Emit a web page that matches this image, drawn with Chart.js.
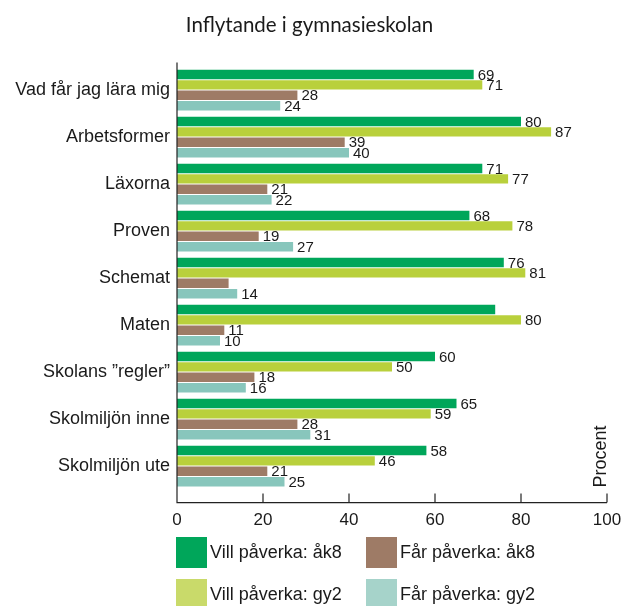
<!DOCTYPE html>
<html>
<head>
<meta charset="utf-8">
<script src="https://cdn.jsdelivr.net/npm/chart.js@4/dist/chart.umd.min.js"></script>
<style>
  body { margin: 0; background: #fff; }
  #wrap { position: relative; width: 625px; height: 606px; overflow: hidden; }
  #legend {
    position: absolute; left: 176px; top: 537px;
    display: grid; grid-template-columns: 190px 190px; grid-template-rows: 42px 42px;
    grid-auto-flow: column;
    font: 18px 'Liberation Sans', Arial, sans-serif; color: #1a1a1a;
  }
  .item { display: flex; align-items: center; height: 31px; }
  .box { width: 31px; height: 31px; margin-right: 3px; flex: none; }
</style>
</head>
<body>
<div id="wrap">
  <canvas id="myChart" width="625" height="606"></canvas>
  <div id="legend"></div>
</div>
<script>
const categories = ['Vad får jag lära mig', 'Arbetsformer', 'Läxorna', 'Proven', 'Schemat',
  'Maten', 'Skolans ”regler”', 'Skolmiljön inne', 'Skolmiljön ute'];
const seriesNames = ['Vill påverka: åk8', 'Vill påverka: gy2', 'Får påverka: åk8', 'Får påverka: gy2'];
const villAk8 = [69, 80, 71, 68, 76, 74, 60, 65, 58];
const villGy2 = [71, 87, 77, 78, 81, 80, 50, 59, 46];
const farAk8 = [28, 39, 21, 19, 12, 11, 18, 28, 21];
const farGy2 = [24, 40, 22, 27, 14, 10, 16, 31, 25];
const xTicks = [0, 20, 40, 60, 80, 100];
// bars without a printed value: [category, series]
const unlabeled = [[4, 2], [5, 0]];

const barColors = ['#00a65a', '#b9d03c', '#9e7b66', '#88c6bc'];
const legendColors = ['#00a65a', '#c9da6a', '#9e7b66', '#a6d3ca'];
const font = "'Liberation Sans', Arial, sans-serif";

// value labels at the bar ends
const valueLabels = {
  id: 'valueLabels',
  afterDatasetsDraw(chart) {
    const ctx = chart.ctx;
    ctx.save();
    ctx.font = '15px ' + font;
    ctx.fillStyle = '#1a1a1a';
    ctx.textBaseline = 'middle';
    chart.data.datasets.forEach((ds, si) => {
      chart.getDatasetMeta(si).data.forEach((bar, ci) => {
        if (unlabeled.some(p => p[0] === ci && p[1] === si)) return;
        ctx.fillText(ds.data[ci], bar.x + 4, bar.y + 1);
      });
    });
    ctx.restore();
  }
};

// axis lines with inward ticks, and the "Procent" note
const axes = {
  id: 'axes',
  afterDraw(chart) {
    const { ctx, chartArea, scales: { x } } = chart;
    const x0 = x.getPixelForValue(0), x1 = x.getPixelForValue(100);
    const ay = chartArea.bottom + 13;
    ctx.save();
    ctx.strokeStyle = '#222';
    ctx.lineWidth = 1.2;
    ctx.beginPath();
    ctx.moveTo(x0, chartArea.top - 4);
    ctx.lineTo(x0, ay);
    ctx.lineTo(x1, ay);
    xTicks.forEach(v => {
      const px = x.getPixelForValue(v);
      ctx.moveTo(px, ay);
      ctx.lineTo(px, ay - 9);
    });
    ctx.stroke();
    ctx.translate(x1, ay - 15);
    ctx.rotate(-Math.PI / 2);
    ctx.font = '18px ' + font;
    ctx.fillStyle = '#1a1a1a';
    ctx.textAlign = 'left';
    ctx.textBaseline = 'alphabetic';
    ctx.fillText('Procent', 0, -1);
    ctx.restore();
  }
};

const chart = new Chart(document.getElementById('myChart').getContext('2d'), {
  type: 'bar',
  data: {
    labels: categories,
    datasets: [villAk8, villGy2, farAk8, farGy2].map((d, i) => ({
      label: seriesNames[i],
      data: d,
      backgroundColor: barColors[i],
      categoryPercentage: 0.888,
      barPercentage: 0.9
    }))
  },
  options: {
    indexAxis: 'y',
    responsive: false,
    animation: false,
    layout: { padding: { left: 12, right: 18, bottom: 54, top: 0 } },
    plugins: {
      legend: { display: false },
      tooltip: { enabled: false },
      title: {
        display: true,
        text: 'Inflytande i gymnasieskolan',
        color: '#1a1a1a',
        font: { family: 'Lato', size: 20.5, weight: 'normal', lineHeight: 1.2 },
        padding: { top: 13, bottom: 29 }
      }
    },
    scales: {
      x: {
        min: 0, max: 100,
        afterBuildTicks: s => { s.ticks = xTicks.map(v => ({ value: v })); },
        afterFit: s => { s.paddingLeft = 0; s.paddingRight = 0; },
        grid: { display: false, drawTicks: false },
        border: { display: false },
        ticks: { color: '#1a1a1a', padding: 21, maxRotation: 0, font: { family: font, size: 17 } }
      },
      y: {
        afterFit: s => { s.width = 165; },
        grid: { display: false, drawTicks: false },
        border: { display: false },
        ticks: { color: '#1a1a1a', padding: 7, font: { family: font, size: 18 } }
      }
    }
  },
  plugins: [valueLabels, axes]
});

// legend in two columns, like the original
const legend = document.getElementById('legend');
chart.data.datasets.forEach((ds, i) => {
  const item = document.createElement('div');
  item.className = 'item';
  item.innerHTML = `<span class="box" style="background:${legendColors[i]}"></span><span>${ds.label}</span>`;
  legend.appendChild(item);
});
</script>
</body>
</html>
